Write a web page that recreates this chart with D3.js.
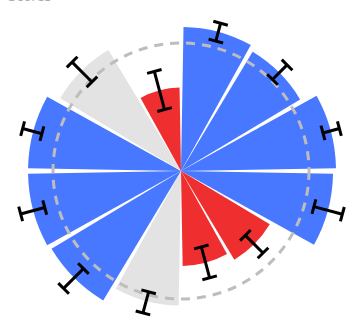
<!DOCTYPE html>
<html>
<head>
<meta charset="utf-8">
<script src="https://cdn.jsdelivr.net/npm/d3@7"></script>
<style>
  html, body { margin: 0; padding: 0; background: #fff; }
  svg { display: block; }
</style>
</head>
<body>
<svg id="chart" width="356" height="324"></svg>
<script>
// Twelve monthly segments, drawn clockwise from twelve o'clock.
const categories = ["Jan", "Feb", "Mar", "Apr", "May", "Jun", "Jul", "Aug", "Sep", "Oct", "Nov", "Dec"];
const values     = [112.5, 108.6, 121.1, 118.8, 80.9, 74.2, 105.1, 118.0, 119.5, 119.5, 110.2, 65.2];
const errLow     = [105.1, 101.1, 114.8, 107.5, 71.1, 61.4, 97.7, 107.8, 110.2, 112.5, 98.4, 49.7];
const errHigh    = [119.5, 117.2, 128.1, 130.5, 90.6, 86.4, 114.8, 129.7, 129.7, 128.1, 120.3, 80.5];
const groups     = ["up", "up", "up", "up", "down", "down", "flat", "up", "up", "up", "flat", "down"];
const baseline   = 100;

const svg = d3.select("#chart");
const cx = 181, cy = 171;
const g = svg.append("g").attr("transform", `translate(${cx},${cy})`);

const angle = d3.scaleBand()
  .domain(categories)
  .range([0, 2 * Math.PI])
  .padding(0);

const radius = d3.scaleLinear()
  .domain([0, 100])
  .range([0, 128]);

const color = d3.scaleOrdinal()
  .domain(["up", "down", "flat"])
  .range(["#4878ff", "#ef2f2f", "#e3e3e3"]);

const rows = categories.map((c, i) => ({
  cat: c, value: values[i], lo: errLow[i], hi: errHigh[i], group: groups[i]
}));

// Header label (sits mostly above the top edge)
svg.append("text")
  .attr("x", 8).attr("y", 0.5)
  .attr("font-family", "DejaVu Sans, sans-serif")
  .attr("font-size", 13)
  .attr("fill", "#aaa")
  .text("Scores");

const arc = d3.arc()
  .innerRadius(0)
  .outerRadius(d => radius(d.value))
  .startAngle(d => angle(d.cat))
  .endAngle(d => angle(d.cat) + angle.bandwidth())
  .padAngle(0.035);

g.selectAll("path.bar")
  .data(rows)
  .join("path")
  .attr("class", "bar")
  .attr("d", arc)
  .attr("fill", d => color(d.group));

// Reference ring
g.append("circle")
  .attr("r", radius(baseline))
  .attr("fill", "none")
  .attr("stroke", "#bdbdbd")
  .attr("stroke-width", 3)
  .attr("stroke-dasharray", "9 7");

// Error bars along each segment's centre line
const mid = d => angle(d.cat) + angle.bandwidth() / 2;
const pt = (a, r) => [r * Math.sin(a), -r * Math.cos(a)];
const capHalf = 7.5;

const eb = g.selectAll("g.err")
  .data(rows)
  .join("g")
  .attr("class", "err")
  .attr("stroke", "#000")
  .attr("stroke-width", 3)
  .attr("fill", "none");

eb.append("line")
  .attr("x1", d => pt(mid(d), radius(d.lo))[0])
  .attr("y1", d => pt(mid(d), radius(d.lo))[1])
  .attr("x2", d => pt(mid(d), radius(d.hi))[0])
  .attr("y2", d => pt(mid(d), radius(d.hi))[1]);

["lo", "hi"].forEach(k => {
  eb.append("line")
    .attr("x1", d => { const a = mid(d), p = pt(a, radius(d[k])); return p[0] + capHalf * Math.cos(a); })
    .attr("y1", d => { const a = mid(d), p = pt(a, radius(d[k])); return p[1] + capHalf * Math.sin(a); })
    .attr("x2", d => { const a = mid(d), p = pt(a, radius(d[k])); return p[0] - capHalf * Math.cos(a); })
    .attr("y2", d => { const a = mid(d), p = pt(a, radius(d[k])); return p[1] - capHalf * Math.sin(a); });
});
</script>
</body>
</html>
